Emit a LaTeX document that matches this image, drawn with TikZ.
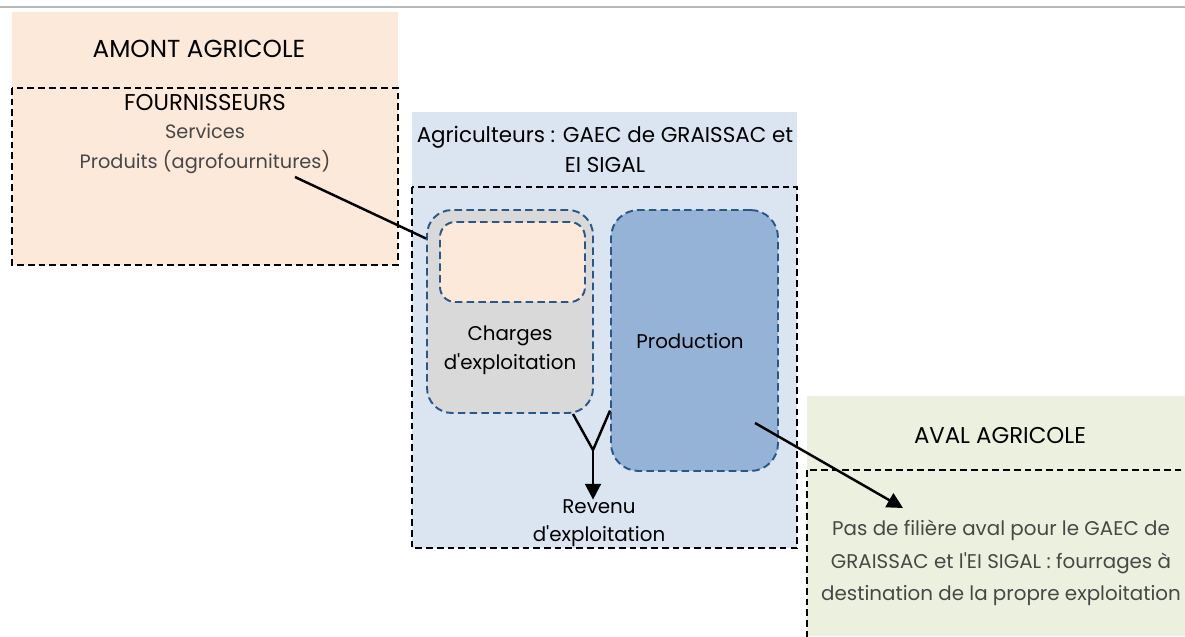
\documentclass[tikz,border=0pt]{standalone}
\usepackage{fontspec}
\setmainfont{Poppins}[Ligatures=TeXOff]
\usetikzlibrary{arrows.meta,positioning}
\definecolor{amont-peach}{HTML}{FDE9D9}
\definecolor{agri-blue}{HTML}{DBE5F1}
\definecolor{charge-gray}{HTML}{D9D9D9}
\definecolor{prod-blue}{HTML}{95B3D7}
\definecolor{aval-green}{HTML}{EBF1DE}
\definecolor{frame-blue}{HTML}{2A5688}

\begin{document}
\begin{tikzpicture}[x=0.02cm, y=-0.02cm,
      every node/.style={font=\fontsize{11.3}{15.5}\selectfont, align=center, inner sep=0pt},
      dashzone/.style={draw=black, line width=1pt, dash pattern=on 3.8pt off 2.3pt},
      roundbox/.style={draw=frame-blue, line width=1.1pt, dash pattern=on 4.3pt off 2.4pt},
      lighttext/.style={text=black!72},
      link/.style={line width=1.4pt}]
    \clip (0,0) rectangle (1185,636);
    \draw[gray!55, line width=0.6pt] (0,7) -- (1185,7);
    % amont
    \fill[amont-peach] (12,12) rectangle (398,265);
    \draw[dashzone] (12,88) rectangle (398,265);
    \node[font=\fontsize{14}{16}\selectfont] (amont) at (199,49) {AMONT AGRICOLE};
    \node[font=\fontsize{13}{16}\selectfont] (fourn) at (205,103) {FOURNISSEURS};
    \node[lighttext, font=\fontsize{11}{15}\selectfont] (services) at (205,131) {Services};
    \node[lighttext, font=\fontsize{11}{15}\selectfont] (produits) at (205,162) {Produits (agrofournitures)};
    % agriculteurs
    \fill[agri-blue] (412,112) rectangle (797,548);
    \draw[dashzone] (412,187) rectangle (797,548);
    \node[font=\fontsize{12.2}{16}\selectfont] (agri) at (605,137) {Agriculteurs : GAEC de GRAISSAC et};
    \node[font=\fontsize{12.2}{16}\selectfont] (agri2) at (605,165) {EI SIGAL};
    \node[roundbox, fill=charge-gray, rounded corners=0.5cm,
          minimum width=3.32cm, minimum height=4.06cm] (charges) at (510,311.5) {};
    \node[roundbox, fill=amont-peach, rounded corners=0.3cm,
          minimum width=2.9cm, minimum height=1.6cm] (intrants) at (512.5,262) {};
    \node (chargeslbl) at (510,336) {Charges};
    \node (chargeslbl2) at (510,364) {d'exploitation};
    \node[roundbox, fill=prod-blue, rounded corners=0.55cm,
          minimum width=3.34cm, minimum height=5.22cm] (prod) at (694.5,340.5) {};
    \node (prodlbl) at (690,341) {Production};
    \node (revenu) at (599,507) {Revenu};
    \node (revenu2) at (599,536) {d'exploitation};
    \coordinate (join) at (593,450);
    \draw[link] (charges.south east) ++(-0.42cm,0) coordinate (cout) -- (join);
    \draw[link] (prod.west) ++(0,-1.4cm) coordinate (pin) -- (join);
    \draw[link, -{Triangle[width=9pt,length=9pt]}] (join) -- (join |- revenu.north);
    % aval
    \fill[aval-green] (807,396) rectangle (1185,636);
    \draw[dashzone] (807,470) rectangle (1200,650);
    \node[font=\fontsize{13}{16}\selectfont] (aval) at (1000,436) {AVAL AGRICOLE};
    \node[lighttext] (filiere1) at (1001,530) {Pas de filière aval pour le GAEC de};
    \node[lighttext] (filiere2) at (1001,563) {GRAISSAC et l'EI SIGAL : fourrages à};
    \node[lighttext] (filiere3) at (1001,596) {destination de la propre exploitation};
    % liens
    \coordinate (pstart) at (295,177);
    \draw[link] (pstart) -- (charges.139.5);
    \coordinate (vstart) at (755,423);
    \coordinate (vend) at (903,508);
    \draw[link, -{Triangle[width=9pt,length=9pt]}] (vstart) -- (vend);
\end{tikzpicture}
\end{document}
